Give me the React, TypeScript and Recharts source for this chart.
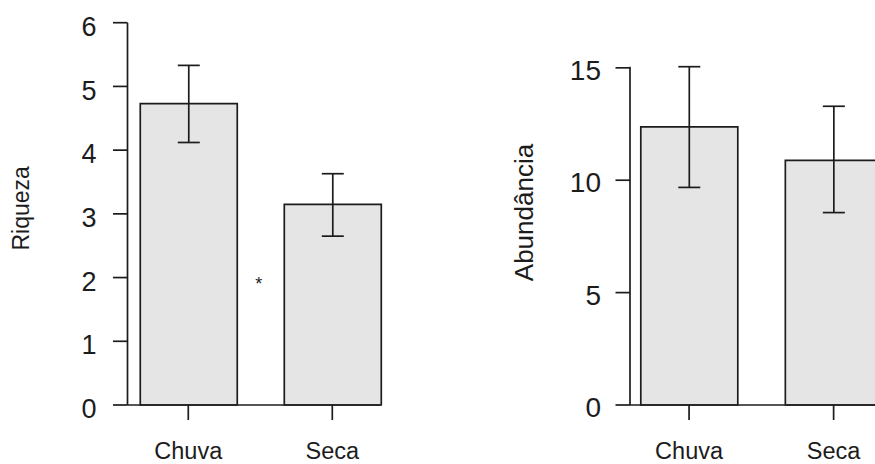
import React from 'react';
import { BarChart, Bar, XAxis, YAxis, ErrorBar, ReferenceDot, Text } from 'recharts';

// ---- data ----
const categories = ['Chuva', 'Seca'];
const categoryPositions = [1.0, 2.5];

const riquezaMeans = [4.73, 3.15];
const riquezaErrors = [
  [0.61, 0.6],
  [0.5, 0.48],
];
const riquezaTicks = [0, 1, 2, 3, 4, 5, 6];

const abundanciaMeans = [12.37, 10.88];
const abundanciaErrors = [
  [2.69, 2.68],
  [2.32, 2.41],
];
const abundanciaTicks = [0, 5, 10, 15];

const significanceMark = { x: 1.733, y: 1.9, label: '*' };

// ---- styles ----
const FONT = '"Liberation Sans", Arial, Helvetica, sans-serif';
const INK = '#1c1c1c';
const BAR_FILL = '#e5e5e5';
const LINE_W = 1.7;

const riquezaData = categories.map((name, i) => ({
  name,
  pos: categoryPositions[i],
  mean: riquezaMeans[i],
  err: riquezaErrors[i],
}));

const abundanciaData = categories.map((name, i) => ({
  name,
  pos: categoryPositions[i],
  mean: abundanciaMeans[i],
  err: abundanciaErrors[i],
}));

const catFormatter = (v: number) => {
  const idx = categoryPositions.indexOf(v);
  return idx >= 0 ? categories[idx] : '';
};

const AxisTitle = (props: any) => {
  const { tx, ty, text, size } = props;
  return (
    <Text
      x={tx}
      y={ty}
      angle={-90}
      textAnchor="middle"
      verticalAnchor="middle"
      fontSize={size}
      fontFamily={FONT}
      fill={INK}
    >
      {text}
    </Text>
  );
};

interface PanelProps {
  data: any[];
  width: number;
  margin: { top: number; right: number; bottom: number; left: number };
  yWidth: number;
  yDomain: [number, number];
  yTicks: number[];
  yFont: number;
  yTickMargin: number;
  yDy: number;
  xDomain: [number, number];
  title: string;
  titleX: number;
  titleY: number;
  titleSize: number;
  children?: React.ReactNode;
}

const Panel = (p: PanelProps) => (
  <BarChart width={p.width} height={464} data={p.data} margin={p.margin}>
    <XAxis
      dataKey="pos"
      type="number"
      domain={p.xDomain}
      ticks={categoryPositions}
      tickFormatter={catFormatter}
      height={50}
      tickSize={15}
      tickMargin={22}
      stroke={INK}
      axisLine={{ stroke: INK, strokeWidth: LINE_W }}
      tickLine={{ stroke: INK, strokeWidth: LINE_W }}
      tick={{ fontSize: 23.5, fill: INK, fontFamily: FONT }}
      interval={0}
    />
    <YAxis
      type="number"
      domain={p.yDomain}
      ticks={p.yTicks}
      width={p.yWidth}
      tickSize={14.5}
      tickMargin={p.yTickMargin}
      stroke={INK}
      axisLine={{ stroke: INK, strokeWidth: LINE_W }}
      tickLine={{ stroke: INK, strokeWidth: LINE_W }}
      tick={{ fontSize: p.yFont, fill: INK, fontFamily: FONT, dy: p.yDy }}
      interval={0}
      label={<AxisTitle tx={p.titleX} ty={p.titleY} text={p.title} size={p.titleSize} />}
    />
    <Bar
      dataKey="mean"
      barSize={97}
      fill={BAR_FILL}
      stroke={INK}
      strokeWidth={LINE_W}
      isAnimationActive={false}
    >
      <ErrorBar dataKey="err" width={11} stroke={INK} strokeWidth={LINE_W} isAnimationActive={false} />
    </Bar>
    {p.children}
  </BarChart>
);

export default function App() {
  return (
    <div
      style={{
        position: 'fixed',
        left: 0,
        top: 0,
        width: 875,
        height: 464,
        overflow: 'hidden',
        background: '#ffffff',
        fontFamily: FONT,
      }}
    >
      <div style={{ position: 'absolute', left: 0, top: 0 }}>
        <Panel
          data={riquezaData}
          width={400}
          margin={{ top: 22.7, right: 19.7, bottom: 9, left: 0 }}
          yWidth={127.5}
          yDomain={[0, 6]}
          yTicks={riquezaTicks}
          yFont={27}
          yTickMargin={16.5}
          yDy={3.5}
          xDomain={[0.367, 3.0]}
          title="Riqueza"
          titleX={20.4}
          titleY={208.4}
          titleSize={23}
        >
          <ReferenceDot
            x={significanceMark.x}
            y={significanceMark.y}
            r={0}
            fill="none"
            stroke="none"
            label={{
              value: significanceMark.label,
              position: 'center',
              fontSize: 18,
              fill: INK,
              fontFamily: FONT,
            }}
          />
        </Panel>
      </div>
      <div style={{ position: 'absolute', left: 435, top: 0 }}>
        <Panel
          data={abundanciaData}
          width={460}
          margin={{ top: 66.7, right: 13.2, bottom: 9, left: 0 }}
          yWidth={195}
          yDomain={[0, 15]}
          yTicks={abundanciaTicks}
          yFont={28}
          yTickMargin={14.5}
          yDy={2}
          xDomain={[0.387, 3.0]}
          title="Abundância"
          titleX={89.1}
          titleY={212.5}
          titleSize={26}
        />
      </div>
    </div>
  );
}
